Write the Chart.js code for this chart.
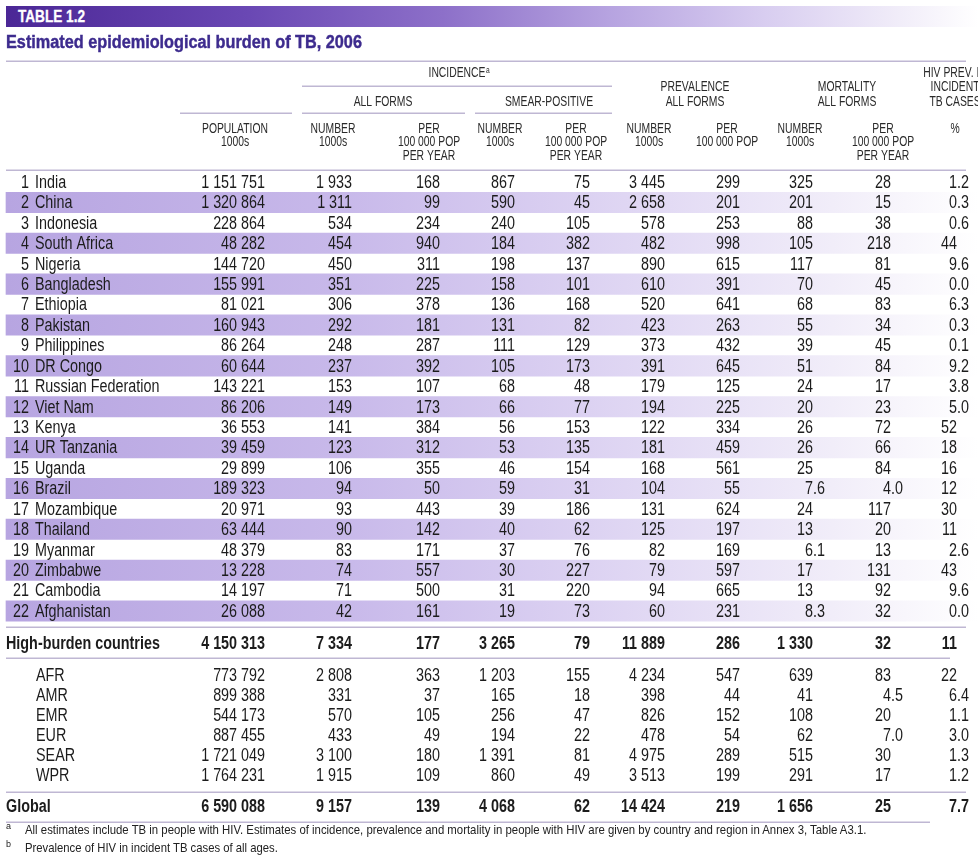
<!DOCTYPE html>
<html>
<head>
<meta charset="utf-8">
<title>Estimated epidemiological burden of TB, 2006</title>
<script src="https://cdn.jsdelivr.net/npm/chart.js@4.4.1/dist/chart.umd.min.js"></script>
<style>
  html, body { margin: 0; background: #fff; }
  body {
    width: 978px; height: 857px; position: relative; overflow: hidden;
    font-family: "Liberation Sans", Arial, sans-serif;
  }
  canvas { position: absolute; left: 0; top: 0; }
  .narrow { display: inline-block; transform-origin: 0 50%; white-space: nowrap; }
  #band {
    position: absolute; left: 6px; top: 6px; width: 972px; height: 21px;
    background: linear-gradient(90deg, #4b2796 0%, #6a48b4 25%, #8d70c9 45%, #b6a3e0 62%, #d8cdf0 78%, #f1edf9 92%, #ffffff 100%);
  }
  #band .narrow {
    position: absolute; left: 12px; top: 0; line-height: 21px;
    color: #fff; font-weight: bold; font-size: 16px; -webkit-text-stroke: 0.3px #fff;
  }
  #title {
    position: absolute; left: 6px; top: 31px; line-height: 22px;
    font-size: 17.5px; font-weight: bold; color: #3d2b8e; -webkit-text-stroke: 0.4px #3d2b8e;
  }
  .note {
    position: absolute; left: 25px; font-size: 13px; line-height: 16px; color: #222;
  }
  .note sup { position: absolute; left: -19px; top: -4px; font-size: 9px; }
</style>
</head>
<body>
<canvas id="table" width="978" height="857"></canvas>
<div id="band"><span class="narrow" data-w="67">TABLE 1.2</span></div>
<div id="title"><span class="narrow" data-w="356">Estimated epidemiological burden of TB, 2006</span></div>
<div class="note" style="top:822px"><sup>a</sup><span class="narrow" data-w="843">All estimates include TB in people with HIV. Estimates of incidence, prevalence and mortality in people with HIV are given by country and region in Annex 3, Table A3.1.</span></div>
<div class="note" style="top:840px"><sup>b</sup><span class="narrow" data-w="253">Prevalence of HIV in incident TB cases of all ages.</span></div>
<script>
// rows: 22 high-burden countries, HBC total, 6 WHO regions, global
const rowLabels = ['India', 'China', 'Indonesia', 'South Africa', 'Nigeria', 'Bangladesh', 'Ethiopia', 'Pakistan',
    'Philippines', 'DR Congo', 'Russian Federation', 'Viet Nam', 'Kenya', 'UR Tanzania', 'Uganda', 'Brazil',
    'Mozambique', 'Thailand', 'Myanmar', 'Zimbabwe', 'Cambodia', 'Afghanistan',
    'High-burden countries', 'AFR', 'AMR', 'EMR', 'EUR', 'SEAR', 'WPR', 'Global']
const population = [1151751, 1320864, 228864, 48282, 144720, 155991, 81021, 160943, 86264, 60644, 143221, 86206,
    36553, 39459, 29899, 189323, 20971, 63444, 48379, 13228, 14197, 26088,
    4150313, 773792, 899388, 544173, 887455, 1721049, 1764231, 6590088]
const incidenceNumber = [1933, 1311, 534, 454, 450, 351, 306, 292, 248, 237, 153, 149, 141, 123, 106, 94, 93, 90, 83, 74, 71, 42,
    7334, 2808, 331, 570, 433, 3100, 1915, 9157]
const incidenceRate = [168, 99, 234, 940, 311, 225, 378, 181, 287, 392, 107, 173, 384, 312, 355, 50, 443, 142, 171, 557, 500, 161,
    177, 363, 37, 105, 49, 180, 109, 139]
const smearNumber = [867, 590, 240, 184, 198, 158, 136, 131, 111, 105, 68, 66, 56, 53, 46, 59, 39, 40, 37, 30, 31, 19,
    3265, 1203, 165, 256, 194, 1391, 860, 4068]
const smearRate = [75, 45, 105, 382, 137, 101, 168, 82, 129, 173, 48, 77, 153, 135, 154, 31, 186, 62, 76, 227, 220, 73,
    79, 155, 18, 47, 22, 81, 49, 62]
const prevalenceNumber = [3445, 2658, 578, 482, 890, 610, 520, 423, 373, 391, 179, 194, 122, 181, 168, 104, 131, 125, 82, 79, 94, 60,
    11889, 4234, 398, 826, 478, 4975, 3513, 14424]
const prevalenceRate = [299, 201, 253, 998, 615, 391, 641, 263, 432, 645, 125, 225, 334, 459, 561, 55, 624, 197, 169, 597, 665, 231,
    286, 547, 44, 152, 54, 289, 199, 219]
const mortalityNumber = [325, 201, 88, 105, 117, 70, 68, 55, 39, 51, 24, 20, 26, 26, 25, 7.6, 24, 13, 6.1, 17, 13, 8.3,
    1330, 639, 41, 108, 62, 515, 291, 1656]
const mortalityRate = [28, 15, 38, 218, 81, 45, 83, 34, 45, 84, 17, 23, 72, 66, 84, 4.0, 117, 20, 13, 131, 92, 32,
    32, 83, 4.5, 20, 7.0, 30, 17, 25]
const hivPrevalence = [1.2, 0.3, 0.6, 44, 9.6, 0.0, 6.3, 0.3, 0.1, 9.2, 3.8, 5.0, 52, 18, 16, 12, 30, 11, 2.6, 43, 9.6, 0.0,
    11, 22, 6.4, 1.1, 3.0, 1.3, 1.2, 7.7]

// column header texts
const columnHeaders = [
    ['POPULATION', '1000s'],
    ['NUMBER', '1000s'], ['PER', '100 000 POP', 'PER YEAR'],
    ['NUMBER', '1000s'], ['PER', '100 000 POP', 'PER YEAR'],
    ['NUMBER', '1000s'], ['PER', '100 000 POP'],
    ['NUMBER', '1000s'], ['PER', '100 000 POP', 'PER YEAR'],
    ['%']
]
const groupHeaders = [
    { text: ['INCIDENCE'], note: 'a', row: 0, center: 457 },
    { text: ['ALL FORMS'], row: 2, center: 383 },
    { text: ['SMEAR-POSITIVE'], row: 2, center: 549 },
    { text: ['PREVALENCE', 'ALL FORMS'], row: 1, center: 695 },
    { text: ['MORTALITY', 'ALL FORMS'], row: 1, center: 847 },
    { text: ['HIV PREV. IN', 'INCIDENT', 'TB CASES'], note: 'b', row: 0, center: 955 }
]

// ---- layout (table units: x in px across, y in row steps) ----
const W = 978, H = 857
const PITCH = 20.43
const FIRST_ROW = 182
const TABLE_LEFT = 6, TABLE_RIGHT = 978
const columns = [
    { edge: 265, center: 235 }, { edge: 352, center: 333 }, { edge: 440, center: 429 },
    { edge: 515, center: 500 }, { edge: 590, center: 576 }, { edge: 665, center: 649 },
    { edge: 740, center: 727 }, { edge: 813, center: 800 }, { edge: 891, center: 883 },
    { edge: 957, center: 955 }
]
const headerRows = [-5.38, -4.67, -3.96, -2.64, -2.01, -1.32]
const rules = [
    { y: -5.92, from: 6, to: 966 },
    { y: -4.72, from: 302, to: 612 },
    { y: -3.38, from: 180, to: 292 }, { y: -3.38, from: 302, to: 465 }, { y: -3.38, from: 475, to: 612 },
    { y: -0.59, from: 6, to: 966 },
    { y: 21.78, from: 6, to: 966 },
    { y: 23.30, from: 6, to: 950 },
    { y: 29.86, from: 6, to: 966 },
    { y: 31.33, from: 6, to: 930 }
]
const rowPos = rowLabels.map(function (_, i) {
    if (i < 22) return i
    if (i === 22) return 22.57
    if (i < 29) return 24.13 + (i - 23) * 0.98
    return 30.54
})
const isTotal = i => i === 22 || i === 29
const labelX = i => (i < 22 ? 35 : isTotal(i) ? 6 : 36)

const FONT = '"Liberation Sans", Arial, sans-serif'
const CELL_SIZE = 17.5
const CELL_NARROW = 0.82
const HEAD_SIZE = 14
const HEAD_NARROW = 0.74
const INK = '#1c1c1c'

function fmt(v) {
    if (v < 10) return v.toFixed(1)
    return String(Math.round(v)).replace(/\B(?=(\d{3})+(?!\d))/g, ' ')
}

// condensed text: Liberation Sans squeezed horizontally
function narrowText(ctx, text, px, py, align, sx) {
    ctx.save()
    ctx.translate(px, py)
    ctx.scale(sx, 1)
    ctx.textAlign = align
    ctx.fillText(text, 0, 0)
    ctx.restore()
}

const cellColumns = [population, incidenceNumber, incidenceRate, smearNumber, smearRate,
    prevalenceNumber, prevalenceRate, mortalityNumber, mortalityRate, hivPrevalence]

const stripes = {
    type: 'bar',
    label: 'stripes',
    indexAxis: 'y',
    data: rowLabels.slice(0, 22).map((_, i) => i).filter(i => i % 2 === 1)
        .map(i => ({ x: [TABLE_LEFT, TABLE_RIGHT], y: rowPos[i] })),
    barThickness: PITCH,
    borderWidth: 0,
    backgroundColor(ctx) {
        const x = ctx.chart.scales.x
        const x0 = x ? x.getPixelForValue(TABLE_LEFT) : NaN
        const x1 = x ? x.getPixelForValue(TABLE_RIGHT) : NaN
        if (!isFinite(x0) || !isFinite(x1) || x1 <= x0) return '#c9bbea'
        const g = ctx.chart.ctx.createLinearGradient(x0, 0, x1, 0)
        g.addColorStop(0, '#b7a5e1')
        g.addColorStop(0.35, '#c8b9ea')
        g.addColorStop(0.6, '#dcd2f2')
        g.addColorStop(0.85, '#f1edf9')
        g.addColorStop(1, '#ffffff')
        return g
    }
}

const labelSet = {
    type: 'scatter',
    label: 'labels',
    kind: 'label',
    data: rowLabels.map((name, i) => ({ x: labelX(i), y: rowPos[i], v: name })),
    pointRadius: 0
}
const valueSets = cellColumns.map((values, c) => ({
    type: 'scatter',
    label: 'col' + c,
    kind: 'value',
    data: values.map((v, i) => ({ x: columns[c].edge, y: rowPos[i], v })),
    pointRadius: 0
}))

const tablePlugin = {
    id: 'tableText',
    afterDatasetsDraw(chart) {
        const { ctx } = chart
        const { x, y } = chart.scales
        ctx.save()
        // rules
        ctx.strokeStyle = '#bfb7d3'
        ctx.lineWidth = 1.5
        rules.forEach(r => {
            const py = Math.round(y.getPixelForValue(r.y)) + 0.25
            ctx.beginPath()
            ctx.moveTo(x.getPixelForValue(r.from), py)
            ctx.lineTo(x.getPixelForValue(r.to), py)
            ctx.stroke()
        })
        // headers
        ctx.fillStyle = '#2a2a2a'
        ctx.textBaseline = 'middle'
        const headFont = HEAD_SIZE + 'px ' + FONT
        const headY = k => y.getPixelForValue(headerRows[k]) + 1
        ctx.font = headFont
        columnHeaders.forEach((lines, c) => {
            lines.forEach((t, k) => narrowText(ctx, t, x.getPixelForValue(columns[c].center), headY(3 + k), 'center', HEAD_NARROW))
        })
        groupHeaders.forEach(g => {
            g.text.forEach((t, k) => {
                const cx = x.getPixelForValue(g.center)
                ctx.font = headFont
                narrowText(ctx, t, cx, headY(g.row + k), 'center', HEAD_NARROW)
                if (g.note && k === g.text.length - 1) {
                    const w = ctx.measureText(t).width * HEAD_NARROW
                    ctx.font = '9px ' + FONT
                    narrowText(ctx, g.note, cx + w / 2 + 0.5, headY(g.row + k) - 3, 'left', HEAD_NARROW)
                }
            })
        })
        // cells
        ctx.fillStyle = INK
        chart.data.datasets.forEach((ds, d) => {
            if (ds.type !== 'scatter') return
            const meta = chart.getDatasetMeta(d)
            meta.data.forEach((pt, i) => {
                const bold = isTotal(i)
                ctx.font = (bold ? 'bold ' : '') + CELL_SIZE + 'px ' + FONT
                const py = pt.y + 1
                if (ds.kind === 'label') {
                    narrowText(ctx, ds.data[i].v, pt.x, py, 'left', CELL_NARROW)
                    if (i < 22) narrowText(ctx, String(i + 1), pt.x - 6, py, 'right', CELL_NARROW)
                } else {
                    const text = fmt(ds.data[i].v)
                    const dot = text.indexOf('.')
                    const tail = dot >= 0 ? ctx.measureText(text.slice(dot)).width * CELL_NARROW : 0
                    narrowText(ctx, text, pt.x + tail, py, 'right', CELL_NARROW)
                }
            })
        })
        ctx.restore()
    }
}

const yMin = -FIRST_ROW / PITCH
new Chart(document.getElementById('table'), {
    data: { datasets: [stripes, labelSet, ...valueSets] },
    options: {
        responsive: false,
        animation: false,
        events: [],
        layout: { padding: 0 },
        scales: {
            x: { type: 'linear', min: 0, max: W, offset: false, bounds: 'data', display: false },
            y: { type: 'linear', min: yMin, max: yMin + H / PITCH, reverse: true, offset: false, bounds: 'data', display: false }
        },
        plugins: {
            legend: { display: false },
            tooltip: { enabled: false }
        }
    },
    plugins: [tablePlugin]
})

// squeeze the HTML captions to the widths they take in the printed table
const measure = document.createElement('canvas').getContext('2d')
document.querySelectorAll('.narrow').forEach(el => {
    const cs = getComputedStyle(el)
    measure.font = cs.fontWeight + ' ' + cs.fontSize + ' ' + FONT
    const w = measure.measureText(el.textContent).width
    el.style.transform = 'scaleX(' + (Number(el.dataset.w) / w).toFixed(3) + ')'
})
</script>
</body>
</html>
